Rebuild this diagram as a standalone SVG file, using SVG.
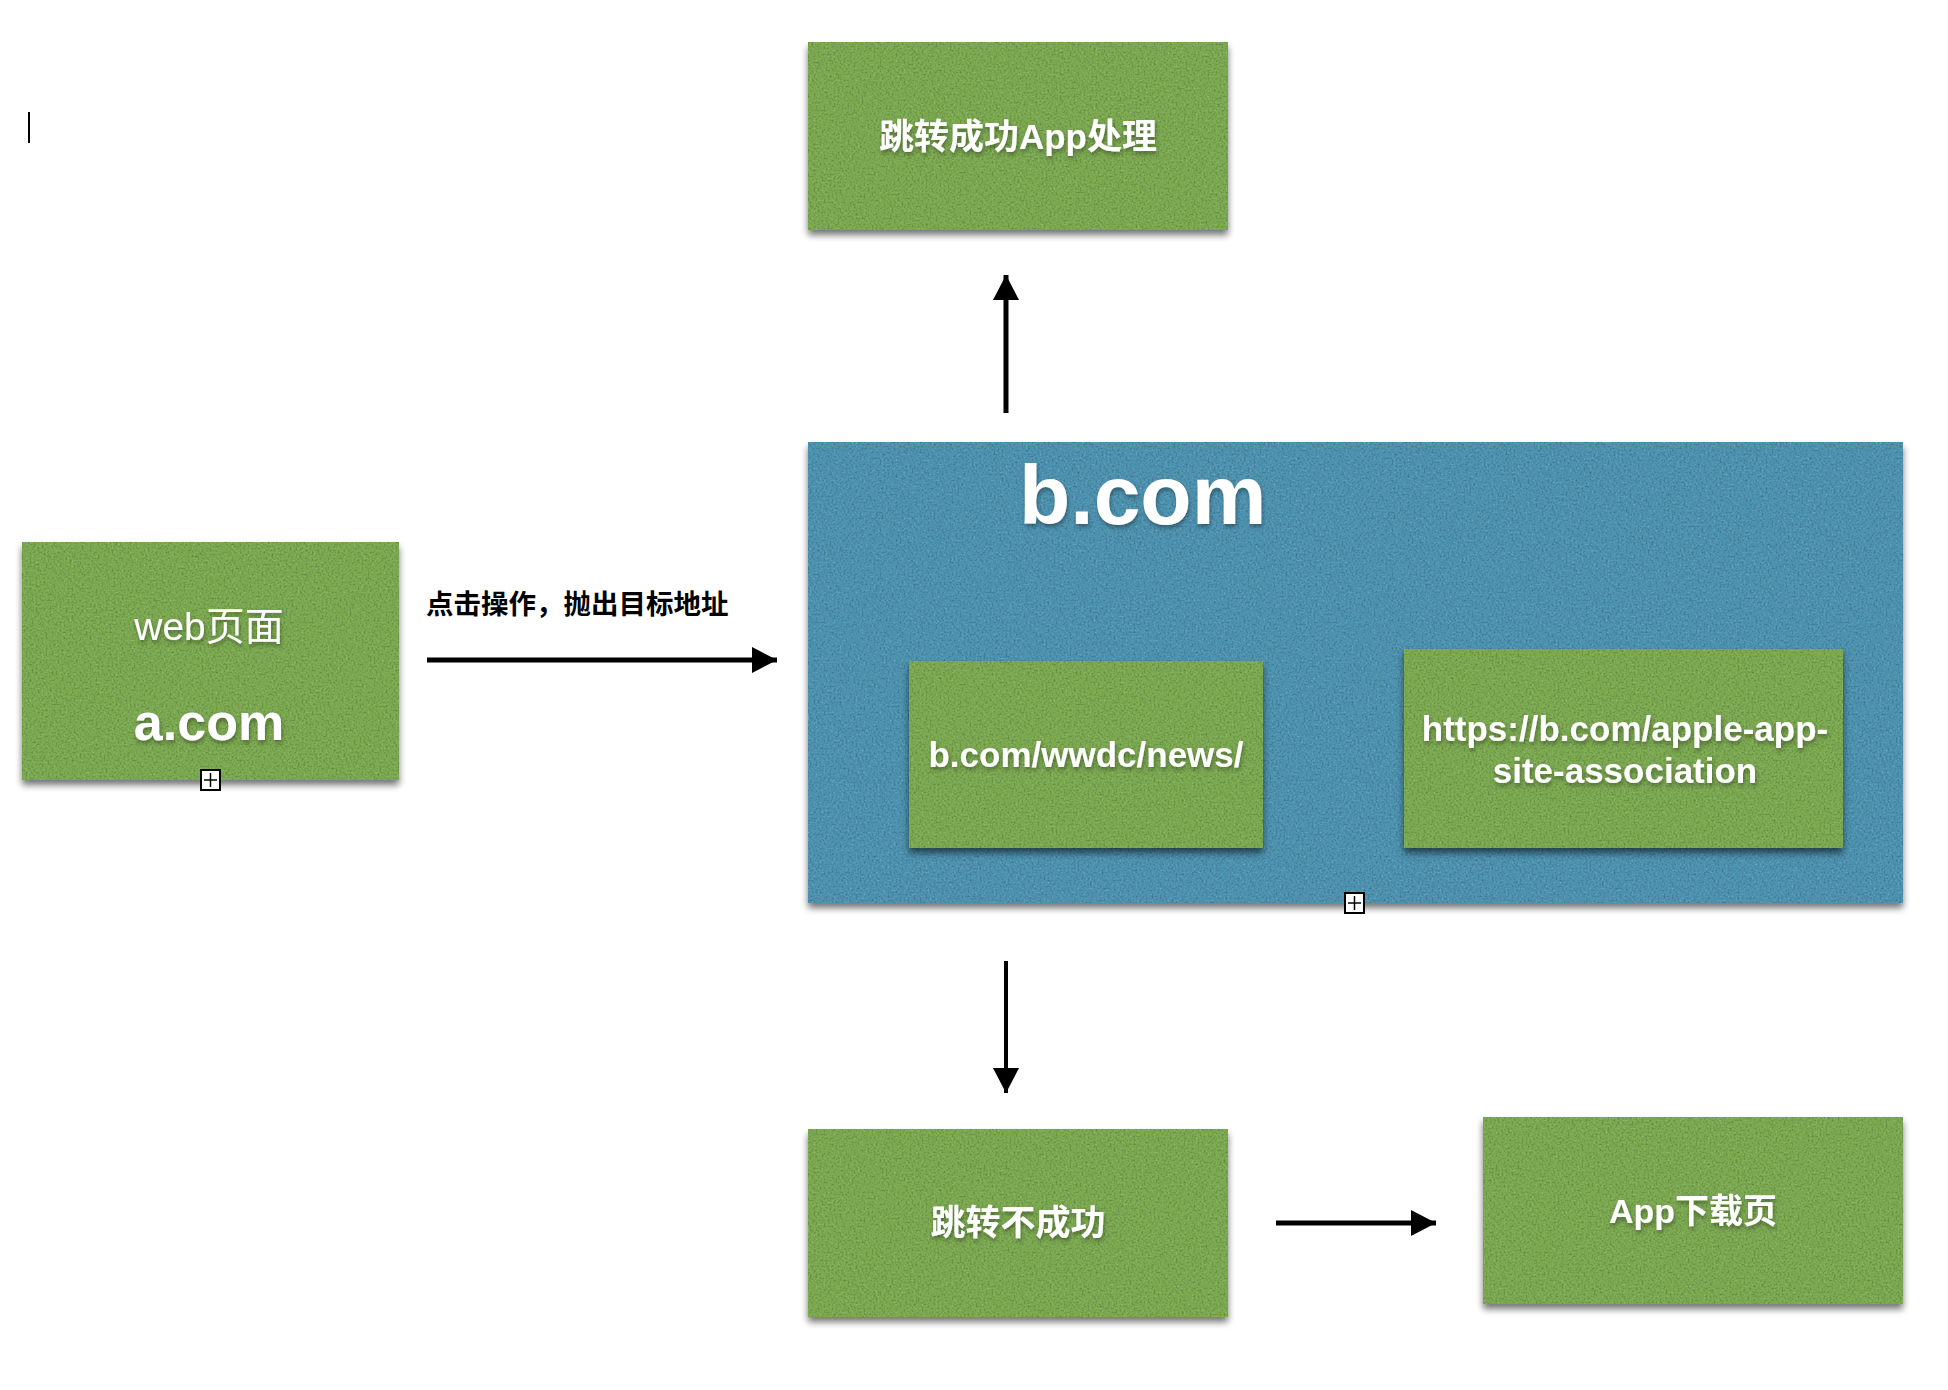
<svg xmlns="http://www.w3.org/2000/svg" width="1948" height="1390" viewBox="0 0 1948 1390">
<style>
  .green { fill: #7cab50; }
  .blue { fill: #4d94b2; }
  .box { filter: url(#tex); }
  .lbl { fill: #ffffff; font-family: "Liberation Sans", "Noto Sans CJK SC", sans-serif; font-weight: bold; filter: url(#tsh); }
  .lblr { fill: #ffffff; font-family: "Liberation Sans", "Noto Sans CJK SC", sans-serif; font-weight: normal; filter: url(#tsh); }
  .edge { fill: none; stroke: #000000; stroke-width: 5; marker-end: url(#arr); }
  .elbl { fill: #000000; font-family: "Noto Sans CJK SC", sans-serif; font-weight: bold; font-size: 27.5px; }
  .plus { fill: #ffffff; stroke: #000000; stroke-width: 2; }
  .plusl { stroke: #000000; stroke-width: 1.5; }
</style>
<defs>
  <filter id="tex" x="-3%" y="-3%" width="106%" height="112%" color-interpolation-filters="sRGB">
    <feTurbulence type="fractalNoise" baseFrequency="0.5" numOctaves="2" seed="4" result="noise"/>
    <feColorMatrix in="noise" type="matrix" values="0 0 0 0 0  0 0 0 0 0  0 0 0 0 0  0.55 0 0 0 -0.25" result="dk"/>
    <feComposite in="dk" in2="SourceGraphic" operator="in" result="spd"/>
    <feColorMatrix in="noise" type="matrix" values="0 0 0 0 1  0 0 0 0 1  0 0 0 0 1  0 -0.5 0 0 0.24" result="lt"/>
    <feComposite in="lt" in2="SourceGraphic" operator="in" result="spl"/>
    <feGaussianBlur in="SourceAlpha" stdDeviation="3.5"/>
    <feOffset dx="0" dy="5" result="blr"/>
    <feComponentTransfer in="blr" result="sh"><feFuncA type="linear" slope="0.55"/></feComponentTransfer>
    <feMerge>
      <feMergeNode in="sh"/>
      <feMergeNode in="SourceGraphic"/>
      <feMergeNode in="spd"/>
      <feMergeNode in="spl"/>
    </feMerge>
  </filter>
  <filter id="tsh" x="-10%" y="-30%" width="120%" height="170%">
    <feDropShadow dx="1" dy="3" stdDeviation="2" flood-color="#000000" flood-opacity="0.35"/>
  </filter>
  <marker id="arr" viewBox="0 0 25 26" markerWidth="25" markerHeight="26" refX="25" refY="13" orient="auto" markerUnits="userSpaceOnUse">
    <path d="M0,0 L25,13 L0,26 Z" fill="#000000"/>
  </marker>
</defs>

<rect x="28" y="112" width="2" height="31" fill="#000000"/>

<g id="node-success">
  <rect class="box green" x="808" y="42" width="420" height="188"/>
  <text class="lbl" x="1018" y="149" font-size="35" text-anchor="middle">跳转成功App处理</text>
</g>

<g id="node-web">
  <rect class="box green" x="22" y="542" width="377" height="238"/>
  <text class="lblr" x="209" y="640" font-size="39" text-anchor="middle">web页面</text>
  <text class="lbl" x="209" y="740" font-size="52" text-anchor="middle">a.com</text>
  <rect class="plus" x="201" y="770" width="19" height="20"/>
  <line class="plusl" x1="204" y1="780" x2="217" y2="780"/>
  <line class="plusl" x1="210.5" y1="773" x2="210.5" y2="787"/>
</g>

<g id="node-bcom">
  <rect class="box blue" x="808" y="442" width="1095" height="461"/>
  <text class="lbl" x="1019" y="524" font-size="84">b.com</text>
  <rect class="plus" x="1345" y="893" width="19" height="20"/>
  <line class="plusl" x1="1348" y1="903" x2="1361" y2="903"/>
  <line class="plusl" x1="1354.5" y1="896" x2="1354.5" y2="910"/>
</g>

<g id="node-news">
  <rect class="box green" x="909" y="661" width="354" height="187"/>
  <text class="lbl" x="1086" y="767" font-size="35" text-anchor="middle">b.com/wwdc/news/</text>
</g>

<g id="node-aasa">
  <rect class="box green" x="1404" y="649" width="439" height="199"/>
  <text class="lbl" font-size="35" text-anchor="middle"><tspan x="1625" y="741">https://b.com/apple-app-</tspan><tspan x="1625" y="783">site-association</tspan></text>
</g>

<g id="node-fail">
  <rect class="box green" x="808" y="1129" width="420" height="188"/>
  <text class="lbl" x="1018" y="1235" font-size="35" text-anchor="middle">跳转不成功</text>
</g>

<g id="node-download">
  <rect class="box green" x="1483" y="1117" width="420" height="187"/>
  <text class="lbl" x="1693" y="1223" font-size="34" text-anchor="middle">App下载页</text>
</g>

<g id="connectors">
  <line class="edge" x1="1006" y1="413" x2="1006" y2="275"/>
  <line class="edge" x1="427" y1="660" x2="777" y2="660"/>
  <text class="elbl" x="426" y="614">点击操作，抛出目标地址</text>
  <line class="edge" x1="1006" y1="961" x2="1006" y2="1093" style="stroke-width:4"/>
  <line class="edge" x1="1276" y1="1223" x2="1436" y2="1223"/>
</g>
</svg>
